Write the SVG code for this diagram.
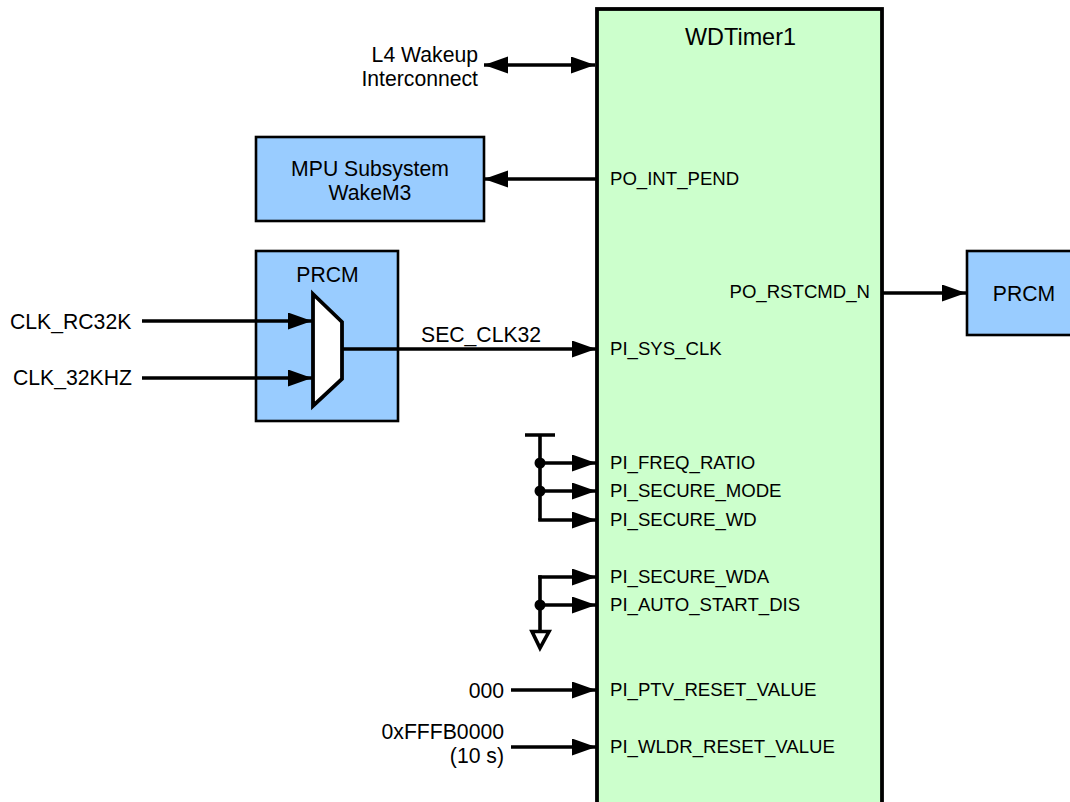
<svg xmlns="http://www.w3.org/2000/svg" width="1070" height="802" viewBox="0 0 1070 802">
<style>
text{font-family:"Liberation Sans",Arial,sans-serif;font-size:21.2px;fill:#000}
.s{font-size:18.6px}
.b{fill:#99ccff;stroke:#000;stroke-width:2.6}
.l{fill:none;stroke:#000;stroke-width:3.6}
.e{text-anchor:end}.m{text-anchor:middle}
</style>
<defs><marker id="a" markerUnits="userSpaceOnUse" markerWidth="26" markerHeight="18" refX="25" refY="8.5" orient="auto-start-reverse"><path d="M1 0L25 8.5L1 17z" fill="#000"/></marker></defs>
<rect width="1070" height="802" fill="#fff"/>
<g id="wdtimer"><rect x="597" y="9" width="285" height="800" fill="#ccffcc" stroke="#000" stroke-width="3.8"/><text class="m" x="740.500" y="45" style="font-size:23.400px">WDTimer1</text>
<text class="s" x="610" y="185">PO_INT_PEND</text><text class="s e" x="870" y="298">PO_RSTCMD_N</text><text class="s" x="610" y="355">PI_SYS_CLK</text><text class="s" x="610" y="469">PI_FREQ_RATIO</text><text class="s" x="610" y="497">PI_SECURE_MODE</text><text class="s" x="610" y="526">PI_SECURE_WD</text><text class="s" x="610" y="583">PI_SECURE_WDA</text><text class="s" x="610" y="611">PI_AUTO_START_DIS</text><text class="s" x="610" y="696">PI_PTV_RESET_VALUE</text><text class="s" x="610" y="753">PI_WLDR_RESET_VALUE</text></g>
<g id="mpu"><rect class="b" x="256" y="137" width="228" height="84"/><text class="m" x="370" y="175.500">MPU Subsystem</text><text class="m" x="370" y="199.500">WakeM3</text></g>
<g id="prcm-left"><rect class="b" x="256" y="251" width="142" height="170"/><text class="m" x="327.500" y="282">PRCM</text></g>
<g id="prcm-right"><rect class="b" x="967" y="251" width="110" height="84"/><text class="m" x="1024" y="301">PRCM</text></g>
<g id="mux"><path d="M313 294L342 322V379L313 406z" fill="#fff" stroke="#000" stroke-width="3.8"/></g>
<g id="labels"><text class="e" x="478" y="62">L4 Wakeup</text><text class="e" x="478" y="86">Interconnect</text><text x="10" y="329">CLK_RC32K</text><text x="13" y="385">CLK_32KHZ</text><text x="421" y="342">SEC_CLK32</text><text class="e" x="504" y="698">000</text><text class="e" x="504" y="739">0xFFFB0000</text><text class="e" x="504" y="763">(10 s)</text></g>
<g id="connectors" class="l">
<path d="M484 65H595" marker-start="url(#a)" marker-end="url(#a)"/><path d="M597 179H484" marker-end="url(#a)"/><path d="M882 293H966" marker-end="url(#a)"/><path d="M142 321H312" marker-end="url(#a)"/><path d="M142 378H312" marker-end="url(#a)"/><path d="M342 349H596" marker-end="url(#a)"/>
<path d="M525 435H555M540 435V520"/><path d="M540 463H596" marker-end="url(#a)"/><path d="M540 491H596" marker-end="url(#a)"/><path d="M538.200 520H596" marker-end="url(#a)"/>
<path d="M540 575.200V632M532 631.500H549L540 648z"/><path d="M538.200 577H596" marker-end="url(#a)"/><path d="M540 605H596" marker-end="url(#a)"/>
<path d="M511 690H596" marker-end="url(#a)"/><path d="M511 747H596" marker-end="url(#a)"/>
<circle cx="540" cy="463" r="5.500" fill="#000" stroke="none"/><circle cx="540" cy="491" r="5.500" fill="#000" stroke="none"/><circle cx="540" cy="605" r="5.500" fill="#000" stroke="none"/></g>
</svg>
